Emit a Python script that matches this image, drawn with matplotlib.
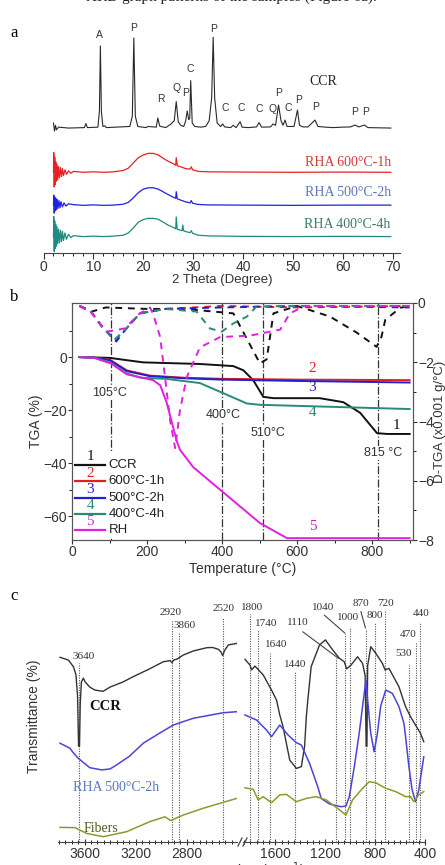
import matplotlib.pyplot as plt
from matplotlib.lines import Line2D
from matplotlib.patches import Rectangle

plt.rcParams['font.family'] = ['Liberation Sans', 'DejaVu Sans']
SERIF = ['Liberation Serif', 'DejaVu Serif']

W, H = 445, 865


def rect(l, t, r, b):
    return [l / W, 1 - b / H, (r - l) / W, (b - t) / H]


#############
# XRD DATA  #
#############
ccr_2t = [2.0, 2.2, 2.4, 2.6, 3.0, 5.0, 8.2, 8.5, 8.8, 10.9, 11.2, 11.4, 11.6, 11.9, 12.3, 12.6,
          17.3, 17.8, 18.1, 18.4, 18.9, 20.5, 21.0, 22.6, 22.9, 23.3, 24.5, 25.5, 26.2, 26.6, 27.0,
          27.5, 28.1, 28.5, 28.8, 29.1, 29.3, 29.5, 29.8, 30.3, 31.5, 32.5, 33.2, 33.7, 34.0, 34.3,
          34.8, 35.5, 35.9, 36.3, 37.5, 38.0, 38.6, 39.4, 39.8, 41.0, 42.7, 43.2, 43.7, 45.5, 46.0,
          46.5, 47.1, 47.6, 48.0, 48.4, 48.8, 50.2, 50.9, 51.3, 52.0, 53.0, 54.4, 55.0, 56.5, 58.0,
          60.0, 61.5, 62.4, 63.2, 64.3, 65.0, 69.6]
ccr_int = [57, 53.5, 56, 54, 55.2, 54.8, 55, 56.8, 55, 55.2, 62, 90.8, 62, 55.5, 55.8, 55,
           55.5, 60, 94.3, 60, 55.5, 55, 55.5, 55.2, 59.2, 55.6, 55, 56.5, 58, 66.4, 57.5,
           56, 55.5, 58, 62.3, 58.5, 59, 75.6, 57, 55.5, 55.2, 55.5, 58, 68, 94.6, 68,
           57, 55.5, 56.6, 55.3, 55, 56, 55, 57.6, 55.2, 55, 55.3, 57.2, 55.2, 55.3, 56.6,
           56, 64.9, 58, 56, 58.3, 55.5, 55.5, 62.7, 56, 55.3, 55.3, 58.3, 55.5, 55.2, 55,
           55.2, 55.3, 56.1, 55.3, 56.1, 55, 54.8]

rha600_2t = [2.0, 2.05, 2.15, 2.25, 2.35, 2.45, 2.55, 2.7, 2.85, 3.0, 3.2, 3.4, 3.6, 3.8, 4.0,
             4.3, 4.6, 5.0, 5.5, 6.0, 8.0, 10.0, 12.0, 14.0, 16.0, 17.0, 18.0, 19.0, 20.0, 21.0,
             22.0, 23.0, 24.0, 25.0, 26.0, 26.5, 26.6, 26.8, 27.5, 28.5, 29.4, 29.6, 29.9, 31.0,
             33.0, 40.0, 50.0, 60.0, 69.6]
rha600_int = [35.5, 44, 29, 42, 30, 40, 31.5, 39, 32, 38, 33, 37.5, 33.5, 37, 34,
              36.5, 34.5, 36, 35, 35.8, 35.4, 35.6, 35.4, 35.6, 36.2, 37.2, 39.5, 41.8, 43, 43.7,
              43.7, 43, 41.5, 40.2, 39.2, 38.5, 41.8, 38.3, 37.8, 37, 36.8, 37.8, 36.5, 35.8,
              35.6, 35.5, 35.4, 35.5, 35.4]

rha500_2t = [2.0, 2.05, 2.15, 2.25, 2.35, 2.45, 2.6, 2.75, 2.9, 3.1, 3.3, 3.5, 3.8, 4.1, 4.5,
             5.0, 6.0, 8.0, 10.0, 12.0, 14.0, 16.0, 17.0, 18.0, 19.0, 20.0, 21.0, 22.0, 23.0,
             24.0, 25.0, 26.0, 26.5, 26.6, 26.8, 27.5, 28.5, 29.4, 29.6, 29.9, 31.0, 33.0, 40.0,
             50.0, 60.0, 69.6]
rha500_int = [21, 25.4, 17.5, 24.5, 18.5, 24, 19, 23.5, 19.5, 23, 19.8, 22.5, 20.2, 22, 20.6,
              21.6, 21.2, 20.9, 21.1, 20.9, 21, 21.4, 22.2, 24.2, 26.5, 28, 28.6, 28.6, 28,
              26.8, 25.6, 24.5, 24, 26.9, 23.8, 23.2, 22.4, 22, 23, 21.8, 21.3, 21.1, 21,
              20.9, 21, 21]

rha400_2t = [2.0, 2.05, 2.15, 2.25, 2.35, 2.45, 2.55, 2.7, 2.85, 3.0, 3.2, 3.4, 3.6, 3.8, 4.0,
             4.3, 4.6, 5.0, 5.5, 6.0, 8.0, 10.0, 12.0, 14.0, 16.0, 17.0, 18.0, 19.0, 20.0, 21.0,
             22.0, 23.0, 24.0, 25.0, 26.0, 26.5, 26.6, 26.8, 27.5, 27.8, 27.9, 28.1, 28.5, 29.4,
             29.6, 29.9, 31.0, 33.0, 40.0, 50.0, 60.0, 69.6]
rha400_int = [7.2, 16, 0.6, 14, 2, 12.5, 3, 11.5, 4, 10.5, 4.5, 10, 5, 9.5, 5.5,
              8.8, 6, 8.2, 6.8, 7.6, 7.2, 7.4, 7.2, 7.4, 7.8, 8.8, 11, 13.5, 14.7, 15.2,
              15.2, 14.8, 13.5, 12.2, 11.2, 10.6, 15.8, 10.4, 10, 9.8, 12.3, 9.7, 9.4, 8.9,
              9.8, 8.6, 7.8, 7.5, 7.3, 7.2, 7.3, 7.2]

peak_labels = ['A', 'P', 'R', 'Q', 'P', 'C', 'P', 'C', 'C', 'C', 'Q', 'P', 'C', 'P', 'P', 'P', 'P']
peak_x = [11.3, 18.1, 23.5, 26.7, 28.4, 29.5, 34.0, 36.4, 39.7, 43.2, 45.9, 47.2, 49.1, 51.2,
          54.6, 62.4, 64.6]
peak_y = [95.6, 98.7, 67.4, 72.5, 70.3, 80.6, 98.1, 63.5, 63.5, 63.3, 63.3, 70.3, 63.5, 67.0,
          64.2, 62.0, 62.0]

#############
# TGA DATA  #
#############
ccr_T = [20, 100, 190, 340, 430, 457, 483, 510, 537, 660, 723, 768, 813, 840, 900]
ccr_tga = [0, -0.3, -2, -2.6, -3.4, -5, -8.7, -15, -15.5, -15.5, -17, -21, -28.7, -29, -29]
h600_T = [20, 60, 101, 146, 208, 300, 400, 600, 900]
h600_tga = [0, -0.2, -1, -5, -7, -7.8, -8.2, -8.5, -8.7]
h500_T = [20, 60, 101, 146, 208, 300, 400, 600, 900]
h500_tga = [0, -0.2, -1.2, -5.3, -7.2, -8, -8.5, -9, -9.6]
h400_T = [20, 60, 101, 146, 184, 250, 341, 403, 466, 501, 600, 700, 800, 900]
h400_tga = [0, -0.3, -2, -6.2, -7.8, -8.2, -9.8, -13.6, -17.5, -18, -18.4, -18.8, -19.2, -19.6]
rh_T = [20, 60, 105, 146, 216, 235, 252, 280, 288, 323, 403, 501, 573, 600, 900]
rh_tga = [0, -0.3, -2.5, -6.5, -8.7, -10.6, -17, -32, -35, -41.5, -51, -62.6, -68.3, -68.3, -68.3]

ccr_dT = [20, 50, 90, 200, 300, 430, 501, 519, 537, 600, 688, 759, 812, 825, 835, 875, 900]
ccr_dtga = [-0.1, -0.3, -0.15, -0.2, -0.2, -0.35, -2.04, -1.9, -0.35, -0.1, -0.46, -1.0, -1.48,
            -1.14, -0.57, -0.16, -0.1]
h600_dT = [20, 48, 80, 115, 145, 181, 248, 400, 600, 900]
h600_dtga = [-0.1, -0.24, -0.8, -1.25, -0.86, -0.35, -0.2, -0.1, -0.15, -0.1]
h500_dT = [20, 48, 80, 118, 145, 181, 248, 400, 600, 900]
h500_dtga = [-0.1, -0.25, -0.8, -1.3, -0.86, -0.35, -0.2, -0.15, -0.1, -0.15]
h400_dT = [20, 48, 80, 112, 145, 181, 248, 332, 368, 399, 430, 466, 492, 600, 900]
h400_dtga = [-0.1, -0.25, -0.8, -1.25, -0.86, -0.35, -0.2, -0.29, -0.86, -0.97, -0.69, -0.46,
             -0.12, -0.1, -0.1]
rh_dT = [20, 50, 92, 140, 181, 208, 217, 235, 248, 262, 275, 288, 306, 341, 395, 475, 555, 581,
         620, 900]
rh_dtga = [-0.1, -0.3, -0.97, -0.86, -0.35, -0.15, -0.4, -1.15, -2.5, -4, -4.9, -3.6, -2.5,
           -1.5, -1.15, -1.1, -0.9, -0.35, -0.1, -0.1]

event_T = [105, 400, 510, 815]
event_labels = ['105°C', '400°C', '510°C', '815 °C']
event_lx = [101, 403, 522, 829]
event_ly = [-13.6, -21.9, -28.7, -36.2]

##############
# FTIR DATA  #
##############
ccr_wn_l = [3792, 3727, 3688, 3668, 3655, 3647, 3640, 3634, 3625, 3610, 3595, 3560, 3520, 3455,
            3400, 3300, 3220, 3100, 2985, 2930, 2918, 2900, 2880, 2828, 2750, 2645, 2600, 2555,
            2535, 2520, 2505, 2476, 2410]
ccr_tr_l = [73.3, 72.2, 69.6, 66.5, 58, 38, 38, 55, 63.5, 65, 63.5, 61.5, 60.3, 59.8,
            61.5, 63.5, 65.6, 68.5, 71.5, 72, 71.2, 72.3, 72.5, 74.2, 75.8, 77.1, 77.2, 76.5,
            75.5, 74, 76, 78.2, 78.8]
rha_wn_l = [3792, 3714, 3690, 3649, 3560, 3466, 3400, 3349, 3250, 3141, 3020, 2907, 2750, 2516,
            2410]
rha_tr_l = [39.2, 37.2, 35.5, 33.2, 29.5, 28.6, 29, 30.6, 34, 39.2, 43, 46.4, 49.1, 51.3, 51.7]
fib_wn_l = [3792, 3675, 3584, 3454, 3271, 3089, 2971, 2927, 2828, 2672, 2411]
fib_tr_l = [5.8, 5.7, 3.4, 2.1, 4.1, 8.1, 10, 8.5, 10.7, 13.4, 17.3]

ccr_wn_r = [1844, 1804, 1791, 1764, 1698, 1631, 1591, 1565, 1539, 1485, 1432, 1392, 1366, 1352,
            1340, 1313, 1246, 1199, 1140, 1087, 1047, 1029, 994, 941, 901, 880, 872, 866, 860,
            835, 795, 742, 720, 689, 609, 556, 516, 436, 410]
ccr_tr_r = [72.5, 70.2, 68.3, 69.8, 66.3, 60.3, 56.3, 50.4, 45.8, 32.5, 29.2, 29.9, 37.8, 49.7,
            56.3, 69.6, 78.2, 80.2, 76.2, 72.9, 71.5, 68.7, 70.2, 73.5, 70.9, 66, 38, 38, 70,
            77.5, 74.9, 70.9, 68.3, 68.9, 61.6, 53.7, 49.7, 43.1, 39.8]
rha_wn_r = [1844, 1751, 1671, 1631, 1565, 1499, 1432, 1392, 1326, 1260, 1233, 1167, 1074, 1034,
            1007, 967, 928, 901, 874, 848, 835, 808, 782, 755, 715, 662, 609, 569, 556, 529,
            503, 476, 450, 410]
rha_tr_r = [50.4, 48.4, 44.4, 41.8, 46.4, 42.5, 39.4, 38.5, 31.2, 21.9, 17.3, 15.1, 14, 14.3,
            18, 29.9, 43.1, 53.7, 64.3, 49.7, 43.1, 35.8, 43.1, 54, 60.3, 59, 53.7, 47.1, 41.8,
            29.9, 20.6, 16, 20.6, 33.8]
fib_wn_r = [1844, 1778, 1738, 1698, 1631, 1565, 1512, 1432, 1352, 1273, 1193, 1113, 1034, 981,
            901, 848, 795, 715, 635, 556, 516, 490, 450, 410]
fib_tr_r = [21.5, 20.9, 16.7, 18, 15.6, 18.7, 18.9, 16, 17.3, 18, 16.7, 13.8, 10.7, 16.7,
            21.3, 23.9, 23.5, 21.3, 20, 18, 18, 16, 18.7, 20]

band_wn_l = [3640, 2920, 2860, 2520]
band_top_l = [71, 87.8, 82.8, 88.8]
band_txt_l = ['3640', '2920', '3860', '2520']
band_lx_l = [3610, 2927, 2815, 2516]
band_ly_l = [73.5, 91, 86.1, 92.7]

band_wn_r = [1800, 1740, 1640, 1440, 1110, 1040, 1000, 870, 800, 720, 530, 470, 440]
band_top_r = [90.5, 84.1, 74.9, 67.6, 72.9, 82.8, 85.4, 84.5, 86.8, 92, 70.2, 79.5, 87.4]
band_txt_r = ['1800', '1740', '1640', '1440', '1110', '1040', '1000', '870', '800', '720',
              '530', '470', '440']
band_lx_r = [1791, 1671, 1591, 1438, 1419, 1220, 1021, 914, 803, 715, 575, 538, 428]
band_ly_r = [93.1, 86.8, 78.2, 70.5, 87, 93.1, 89.2, 94.7, 89.7, 94.7, 74.9, 82.4, 90.5]

fig = plt.figure(figsize=(4.45, 8.65), dpi=100)

# caption line cut off by the top edge, as in the source page
fig.text(0.52, 1 + 3 / H, 'XRD graph patterns of the samples (Figure 6a).', family=SERIF,
         fontsize=11, ha='center', va='center', color='#222')
for lab, py in [('a', 33), ('b', 297), ('c', 596)]:
    fig.text(10 / W, 1 - py / H, lab, family=SERIF, fontsize=12, ha='left', va='center')

###########
# PANEL A #
###########
axa = fig.add_axes(rect(43.5, 25, 400.3, 253))
axa.plot(ccr_2t, ccr_int, color='#2a2a2a', lw=0.8)
axa.plot(rha600_2t, rha600_int, color='#e82020', lw=0.9)
axa.plot(rha500_2t, rha500_int, color='#2020e0', lw=0.9)
axa.plot(rha400_2t, rha400_int, color='#1f8a80', lw=0.9)
for t, x, y in zip(peak_labels, peak_x, peak_y):
    axa.text(x, y, t, fontsize=7.5, ha='center', va='center', color='#333')
axa.text(56.1, 75.2, 'CCR', family=SERIF, fontsize=10, ha='center', va='center', color='#222')
axa.text(69.6, 39.9, 'RHA 600°C-1h', family=SERIF, fontsize=10, ha='right', va='center',
         color='#d23a3a')
axa.text(69.6, 26.4, 'RHA 500°C-2h', family=SERIF, fontsize=10, ha='right', va='center',
         color='#5a78b8')
axa.text(69.6, 12.3, 'RHA 400°C-4h', family=SERIF, fontsize=10, ha='right', va='center',
         color='#3c7a6c')
axa.set_xlim(0, 71.5)
axa.set_ylim(0, 100)
for s in ['left', 'top', 'right']:
    axa.spines[s].set_visible(False)
axa.spines['bottom'].set_color('#444')
axa.set_yticks([])
axa.set_xticks(range(0, 71, 10))
axa.set_xticks(range(0, 71, 2), minor=True)
axa.tick_params(axis='x', labelsize=10, colors='#333', length=4, pad=1)
axa.tick_params(axis='x', which='minor', length=2)
axa.set_xlabel('2 Theta (Degree)', fontsize=9.5, color='#333', labelpad=0)

###########
# PANEL B #
###########
axb = fig.add_axes(rect(72, 303, 413, 540))
axd = axb.twinx()
for t in event_T:
    axb.axvline(t, color='#333', ls='-.', lw=0.9)
axb.plot(ccr_T, ccr_tga, color='#111', lw=1.4)
axb.plot(h600_T, h600_tga, color='#e02020', lw=1.4)
axb.plot(h500_T, h500_tga, color='#2020d0', lw=1.4)
axb.plot(h400_T, h400_tga, color='#2a8a7a', lw=1.4)
axb.plot(rh_T, rh_tga, color='#e020e0', lw=1.4)
dash = (0, (3.5, 3))
axd.plot(ccr_dT, ccr_dtga, color='#111', lw=1.4, ls=dash)
axd.plot(h600_dT, h600_dtga, color='#e02020', lw=1.4, ls=dash)
axd.plot(h500_dT, h500_dtga, color='#2020d0', lw=1.4, ls=dash)
axd.plot(h400_dT, h400_dtga, color='#2a8a7a', lw=1.4, ls=dash)
axd.plot(rh_dT, rh_dtga, color='#e020e0', lw=1.4, ls=dash)
for txt, x, y in zip(event_labels, event_lx, event_ly):
    axb.text(x, y, txt, fontsize=9, ha='center', va='center', color='#333',
             bbox=dict(facecolor='white', edgecolor='none', pad=0.5))
for num, col, x, y in [('2', '#e02020', 640, -4.2), ('3', '#2020d0', 640, -11.3),
                       ('4', '#2a8a7a', 640, -21), ('1', '#111', 866, -25.7),
                       ('5', '#d020c0', 643, -64)]:
    axb.text(x, y, num, family=SERIF, fontsize=11, ha='center', va='center', color=col)

# legend with numbers above the handles, on a white patch
axb.add_patch(Rectangle((0.003, 0.005), 0.27, 0.37, transform=axb.transAxes, facecolor='white',
                        edgecolor='none', zorder=2.5))
leg_names = ['CCR', '600°C-1h', '500°C-2h', '400°C-4h', 'RH']
leg_cols = ['#111', '#e02020', '#2020d0', '#2a8a7a', '#e020e0']
leg_nums = ['1', '2', '3', '4', '5']
for i, (nm, col, num) in enumerate(zip(leg_names, leg_cols, leg_nums)):
    yy = 0.316 - i * 0.0685
    axb.plot([0.01, 0.097], [yy, yy], color=col, lw=1.6, transform=axb.transAxes, zorder=3)
    axb.text(0.108, yy, nm, fontsize=9.5, ha='left', va='center', color='#222',
             transform=axb.transAxes, zorder=3)
    axb.text(0.053, yy + 0.035, num, family=SERIF, fontsize=11, ha='center', va='center',
             color=col, transform=axb.transAxes, zorder=3)

axb.set_xlim(0, 909)
axb.set_ylim(-69, 20.4)
axd.set_ylim(-8, 0)
axb.set_xticks([0, 200, 400, 600, 800])
axb.set_xticks(range(0, 901, 100), minor=True)
axb.set_yticks([0, -20, -40, -60])
axb.set_yticks(range(-60, 11, 10), minor=True)
axd.set_yticks([0, -2, -4, -6, -8])
axd.set_yticks(range(-8, 1), minor=True)
for a in (axb, axd):
    a.tick_params(labelsize=10, colors='#333', length=3, pad=0.5)
    a.tick_params(which='minor', length=2)
    for s in a.spines.values():
        s.set_color('#555')
axb.set_xlabel('Temperature (°C)', fontsize=10, color='#333', labelpad=2)
axb.set_ylabel('TGA (%)', fontsize=10, color='#333', labelpad=0)
axd.set_ylabel('D-TGA (x0.001 g/°C)', fontsize=9.5, color='#333', labelpad=0)

###########
# PANEL C #
###########
axl = fig.add_axes(rect(58, 590, 237, 842))
axr = fig.add_axes(rect(243, 590, 425, 842))
dot = (0, (1, 1.2))
axl.vlines(band_wn_l, 0, band_top_l, color='#555', lw=0.8, ls=dot)
axr.vlines(band_wn_r, 0, band_top_r, color='#555', lw=0.8, ls=dot)
axl.plot(ccr_wn_l, ccr_tr_l, color='#333', lw=1.0)
axl.plot(rha_wn_l, rha_tr_l, color='#4b45d6', lw=1.1)
axl.plot(fib_wn_l, fib_tr_l, color='#8a9c2c', lw=1.1)
axr.plot(ccr_wn_r, ccr_tr_r, color='#333', lw=1.0)
axr.plot(rha_wn_r, rha_tr_r, color='#4b45d6', lw=1.1)
axr.plot(fib_wn_r, fib_tr_r, color='#8a9c2c', lw=1.1)
for t, x, y in zip(band_txt_l, band_lx_l, band_ly_l):
    axl.text(x, y, t, family=SERIF, fontsize=8, ha='center', va='center', color='#333')
for t, x, y in zip(band_txt_r, band_lx_r, band_ly_r):
    axr.text(x, y, t, family=SERIF, fontsize=8, ha='center', va='center', color='#333')
for (x0, y0), (x1, y1) in [((1380, 83.4), (1095, 72.9)), ((1207, 90), (1045, 83)),
                           ((914, 91.4), (878, 85))]:
    axr.plot([x0, x1], [y0, y1], color='#444', lw=0.8)
axl.text(3440, 53.7, 'CCR', family=SERIF, fontsize=10.5, fontweight='bold', ha='center',
         va='center', color='#111')
axl.text(3690, 21.7, 'RHA 500°C-2h', family=SERIF, fontsize=10, ha='left', va='center',
         color='#5a78c0')
axl.text(3610, 5.4, 'Fibers', family=SERIF, fontsize=10, ha='left', va='center', color='#4f5a24')

axl.set_xlim(3808, 2408)
axr.set_xlim(1860, 410)
axl.set_xticks([3600, 3200, 2800])
axl.set_xticks(range(3800, 2400, -50), minor=True)
axr.set_xticks([1600, 1200, 800, 400])
axr.set_xticks(range(1850, 405, -50), minor=True)
for a in (axl, axr):
    a.set_ylim(0, 100)
    a.set_yticks([])
    for s in ['left', 'top', 'right']:
        a.spines[s].set_visible(False)
    a.spines['bottom'].set_color('#444')
    a.tick_params(axis='x', labelsize=10, colors='#333', direction='inout', length=5, pad=1)
    a.tick_params(axis='x', which='minor', direction='inout', length=3)
axl.set_ylabel('Transmittance (%)', fontsize=10, color='#333', labelpad=12)
# x label runs off the bottom edge, as in the source page
fig.text(240 / W, 1 - 871 / H, 'Wavenumber (cm$^{-1}$)', fontsize=10, ha='center',
         va='center', color='#333')

# axis break marks
for px in (238, 243):
    fig.add_artist(Line2D([px / W, (px + 4) / W], [1 - 846 / H, 1 - 838 / H], color='#444',
                          lw=0.9))

fig.savefig('out.png', dpi=100)
